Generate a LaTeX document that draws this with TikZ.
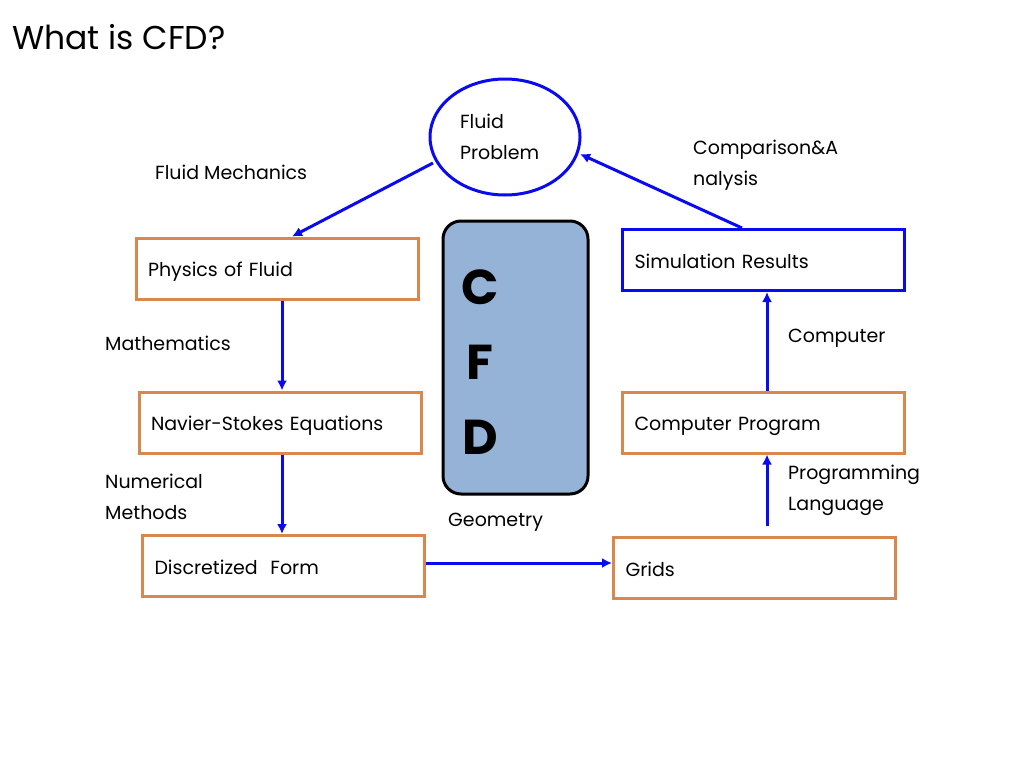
\documentclass[tikz,border=0pt]{standalone}
\usepackage{fontspec}
\setmainfont{Poppins}
\usetikzlibrary{arrows.meta,shapes.geometric}
\definecolor{boxorange}{HTML}{D8874F}
\definecolor{arrblue}{HTML}{0A0AF0}
\definecolor{cfdfill}{HTML}{95B3D7}
\tikzset{
  txt/.style={inner sep=0pt, anchor=west, align=left, font=\fontsize{19}{31}\selectfont},
  obox/.style={draw=boxorange, line width=3pt, minimum width=282pt, minimum height=61pt, inner xsep=12pt, inner ysep=0pt, text width=258pt, text height=20pt, text depth=4pt, align=left, font=\fontsize{19}{31}\selectfont},
  bbox/.style={obox, draw=arrblue},
  conn/.style={draw=arrblue, line width=3pt, -{Latex[length=10pt,width=10pt]}},
}
\begin{document}
\begin{tikzpicture}[x=1pt,y=-1pt]
\useasboundingbox (0,0) rectangle (1024,768);
\node[inner sep=0pt, anchor=west, font=\fontsize{33}{40}\selectfont] (title) at (12,37) {What is CFD?};
% ellipse
\node[draw=arrblue, line width=3pt, ellipse, minimum width=150pt, minimum height=116pt, text width=90pt, align=left, font=\fontsize{19}{31}\selectfont] (fp) at (505,137) {Fluid\\Problem};
% CFD box
\node[draw=black, fill=cfdfill, line width=3pt, rounded corners=18pt, minimum width=145pt, minimum height=273pt] (cfd) at (515.5,357.5) {};
\node[inner sep=0pt, align=center, font=\fontsize{49}{75}\selectfont\bfseries] (cfdtxt) at (480,362) {C\\F\\D};
% boxes
\node[obox] (phys) at (277,268.5) {Physics of Fluid};
\node[obox] (ns) at (280,422.5) {Navier-Stokes Equations};
\node[obox] (disc) at (283.5,566) {Discretized\ \ Form};
\node[obox] (grids) at (754.5,568) {Grids};
\node[obox] (prog) at (763.5,422.5) {Computer Program};
\node[bbox] (sim) at (763.5,260) {Simulation Results};
% labels
\node[txt] (lfm) at (155,172) {Fluid Mechanics};
\node[txt] (lmath) at (105,343) {Mathematics};
\node[txt] (lnum) at (105,496.5) {Numerical\\Methods};
\node[txt] (lgeo) at (448,522) {Geometry};
\node[txt] (lcomp) at (693,165.5) {Comparison\&A\\nalysis};
\node[txt] (lcomputer) at (788,338) {Computer};
\node[txt] (lprog) at (788,490.5) {Programming\\Language};
% connectors
\coordinate (fpl) at (433,163);
\coordinate (fpr) at (580,154);
\draw[conn] (fpl) -- (phys.north -| 292,0);
\draw[conn] (sim.north -| 742,0) -- (fpr);
\draw[conn] (phys.south -| 282,0) -- (ns.north -| 282,0);
\draw[conn] (ns.south -| 282,0) -- (disc.north -| 282,0);
\draw[conn] (disc.east |- 0,563) -- (grids.west |- 0,563);
\draw[conn] ([yshift=10pt]grids.north -| 767,0) -- (prog.south -| 767,0);
\draw[conn] (prog.north -| 767,0) -- (sim.south -| 767,0);
\end{tikzpicture}
\end{document}
